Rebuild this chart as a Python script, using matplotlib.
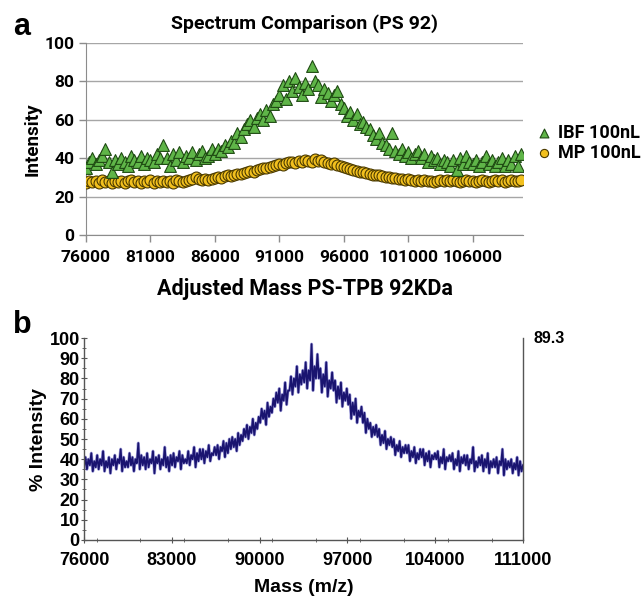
import numpy as np
import matplotlib
matplotlib.use('Agg')
import matplotlib.pyplot as plt
from matplotlib.ticker import MultipleLocator

# panel a uses a Calibri-like face, panel b an Arial-like one
calibri = ['Roboto', 'DejaVu Sans']
arial = ['Liberation Sans', 'DejaVu Sans']
plt.rcParams['font.family'] = calibri

# ---- panel a data (sampled every 250 Da) ----
mass_a = np.arange(76000, 110000, 250)

ibf_100nl = [
    35, 38, 40, 37, 39, 41, 45, 38,
    33, 39, 37, 40, 38, 36, 41, 39,
    38, 41, 37, 40, 39, 38, 42, 40,
    47, 40, 36, 42, 39, 43, 38, 41,
    40, 43, 39, 42, 44, 40, 41, 45,
    42, 45, 44, 47, 46, 49, 48, 53,
    51, 55, 58, 60, 56, 61, 63, 60,
    65, 62, 68, 70, 73, 78, 71, 80,
    75, 82, 77, 73, 79, 76, 88, 80,
    78, 72, 76, 74, 70, 73, 75, 68,
    66, 62, 64, 60, 63, 58, 59, 56,
    55, 52, 50, 53, 48, 47, 45, 53,
    44, 42, 45, 41, 43, 40, 42, 44,
    40, 42, 38, 41, 39, 40, 37, 39,
    38, 36, 39, 34, 40, 37, 41, 38,
    37, 39, 36, 38, 41, 37, 39, 36,
    38, 40, 36, 39, 37, 41, 36, 42,
]

mp_100nl = [
    27, 28, 27.5, 28, 27, 28.5, 27.5, 28,
    27, 28, 27.5, 28, 27, 28, 28.5, 27.5,
    28, 27, 28, 27.5, 28.5, 27, 28, 27.5,
    28, 27.5, 28, 27, 28.5, 28, 27.5, 28,
    28.5, 29, 30, 29, 28.5, 29, 28.5, 29,
    29.5, 30, 29.5, 30.5, 31, 30.5, 31.5, 32,
    32, 32.5, 33, 33.5, 33, 34, 34.5, 35,
    35, 35.5, 36, 36.5, 37, 36.5, 37.5, 38,
    38, 37.5, 38.5, 38, 39, 38.5, 38, 39.5,
    38.5, 39, 38, 37.5, 37, 37.5, 36.5, 36,
    35.5, 35, 34.5, 34, 33.5, 33, 33, 32.5,
    32, 31.5, 31, 31, 30.5, 30, 30, 29.5,
    29.5, 29, 29, 28.5, 29, 28.5, 28, 28.5,
    28, 28.5, 28, 28, 27.5, 28, 28.5, 28,
    28.5, 28, 28.5, 28, 27.5, 28, 28.5, 28,
    28, 27.5, 28, 28.5, 28, 27.5, 28, 28.5,
    28, 28.5, 27.5, 28, 28.5, 28, 28, 28.5,
]

xticks_a = [76000, 81000, 86000, 91000, 96000, 101000, 106000]

# ---- panel b data (raw spectrum, PS-TPB 92KDa) ----
mass_b = np.linspace(76000, 111000, 300)

pct_intensity = [
    36, 41, 35, 40, 37, 43, 34, 39, 36, 42,
    35, 40, 37, 44, 34, 39, 36, 41, 33, 40,
    37, 42, 35, 40, 38, 45, 34, 41, 36, 39,
    36, 43, 37, 41, 34, 40, 38, 48, 35, 42,
    37, 41, 35, 43, 36, 40, 38, 44, 33, 41,
    38, 42, 35, 40, 37, 46, 36, 41, 34, 42,
    37, 43, 36, 41, 39, 44, 35, 42, 38, 40,
    38, 44, 37, 42, 40, 46, 36, 43, 39, 45,
    40, 45, 38, 44, 41, 47, 39, 43, 42, 46,
    42, 47, 40, 46, 44, 49, 41, 48, 43, 50,
    45, 51, 46, 50, 44, 53, 47, 52, 49, 55,
    51, 57, 50, 56, 53, 60, 52, 58, 55, 61,
    58, 65, 60, 64, 57, 68, 61, 66, 63, 70,
    66, 73, 68, 75, 64, 72, 69, 78, 67, 74,
    74, 81, 72, 80, 76, 86, 73, 82, 77, 84,
    78, 88, 75, 84, 79, 97, 74, 86, 80, 92,
    80, 85, 73, 82, 76, 88, 71, 79, 75, 83,
    74, 79, 68, 76, 70, 78, 66, 73, 69, 75,
    67, 72, 60, 68, 62, 70, 58, 64, 61, 66,
    58, 63, 53, 60, 55, 58, 51, 56, 52, 57,
    51, 55, 47, 52, 48, 54, 45, 50, 47, 51,
    46, 50, 42, 47, 44, 49, 41, 46, 43, 47,
    43, 47, 39, 44, 41, 46, 38, 43, 40, 45,
    41, 45, 37, 43, 39, 44, 36, 42, 40, 43,
    40, 44, 36, 41, 38, 45, 35, 41, 39, 42,
    39, 43, 35, 40, 37, 44, 34, 41, 38, 42,
    37, 42, 35, 40, 38, 46, 34, 39, 36, 41,
    37, 42, 34, 40, 36, 43, 33, 39, 36, 40,
    36, 41, 33, 39, 37, 45, 32, 40, 35, 39,
    36, 40, 33, 38, 35, 41, 32, 39, 34, 37,
]

xticks_b = [76000, 83000, 90000, 97000, 104000, 111000]
peak_label = '89.3'

fig = plt.figure(figsize=(6.44, 5.97), dpi=100)

# ===== panel a =====
ax1 = fig.add_axes([0.1335, 0.6064, 0.6786, 0.3216])
ax1.scatter(mass_a, mp_100nl, marker='o', s=62, facecolor='#f2c01e',
            edgecolor='#4a3a00', linewidth=0.8, label='MP 100nL', zorder=3)
ax1.scatter(mass_a, ibf_100nl, marker='^', s=72, facecolor='#5fb548',
            edgecolor='#1e4a12', linewidth=0.8, label='IBF 100nL', zorder=4)
ax1.set_xlim(76000, 109900)
ax1.set_ylim(0, 100)
ax1.set_xticks(xticks_a)
ax1.set_yticks([0, 20, 40, 60, 80, 100])
ax1.grid(axis='y', color='#a6a6a6', linewidth=1.0)
ax1.set_axisbelow(True)
for s in ['top', 'right']:
    ax1.spines[s].set_visible(False)
ax1.spines['left'].set_color('#8c8c8c')
ax1.spines['bottom'].set_color('#8c8c8c')
ax1.tick_params(axis='both', colors='#8c8c8c', length=5, width=1,
                labelcolor='black', labelsize=12.5)
ax1.tick_params(axis='x', pad=6)
for lab in ax1.get_xticklabels() + ax1.get_yticklabels():
    lab.set_fontweight('bold')
ax1.set_title('Spectrum Comparison (PS 92)', fontsize=14, fontweight='bold', pad=10)
ax1.set_ylabel('Intensity', fontsize=13.5, fontweight='bold', labelpad=2)
ax1.set_xlabel('Adjusted Mass PS-TPB 92KDa', fontsize=15.5, fontweight='bold', labelpad=9)
handles, labels = ax1.get_legend_handles_labels()
ax1.legend(handles[::-1], labels[::-1], loc='center left', bbox_to_anchor=(1.027, 0.48),
           frameon=False, handlelength=1.0, handletextpad=0.3, borderpad=0,
           borderaxespad=0, labelspacing=0.12,
           prop={'weight': 'bold', 'size': 13}, markerscale=0.75)
fig.text(0.034, 0.955, 'a', fontsize=22, fontweight='bold', family=arial,
         va='center', ha='center')

# ===== panel b =====
ax2 = fig.add_axes([0.1304, 0.0955, 0.6817, 0.3383])
ax2.plot(mass_b, pct_intensity, color='#6462c8', linewidth=2.2, alpha=0.55)
ax2.plot(mass_b, pct_intensity, color='#1a1470', linewidth=1.3)
ax2.set_xlim(76000, 111000)
ax2.set_ylim(0, 100)
ax2.set_xticks(xticks_b)
ax2.xaxis.set_minor_locator(MultipleLocator(3500))
ax2.yaxis.set_major_locator(MultipleLocator(10))
ax2.yaxis.set_minor_locator(MultipleLocator(5))
ax2.spines['top'].set_visible(False)
for s in ['left', 'bottom', 'right']:
    ax2.spines[s].set_color('#555555')
    ax2.spines[s].set_linewidth(1.0)
ax2.tick_params(axis='both', which='both', direction='inout', colors='#555555',
                labelcolor='black', labelsize=13)
ax2.tick_params(axis='both', which='major', length=4)
ax2.tick_params(axis='both', which='minor', length=3)
ax2.tick_params(axis='y', pad=1)
ax2.tick_params(axis='x', pad=7)
for lab in ax2.get_xticklabels() + ax2.get_yticklabels():
    lab.set_fontweight('bold')
    lab.set_family(arial)
ax2.set_ylabel('% Intensity', fontsize=14, fontweight='bold', family=arial, labelpad=2)
ax2.set_xlabel('Mass (m/z)', fontsize=14, fontweight='bold', family=arial, labelpad=7)
ax2.text(1.023, 1.0, peak_label, transform=ax2.transAxes, fontsize=11.5,
         fontweight='bold', family=arial, ha='left', va='center')
fig.text(0.034, 0.455, 'b', fontsize=22, fontweight='bold', family=arial,
         va='center', ha='center')

fig.savefig('out.png', dpi=100)
